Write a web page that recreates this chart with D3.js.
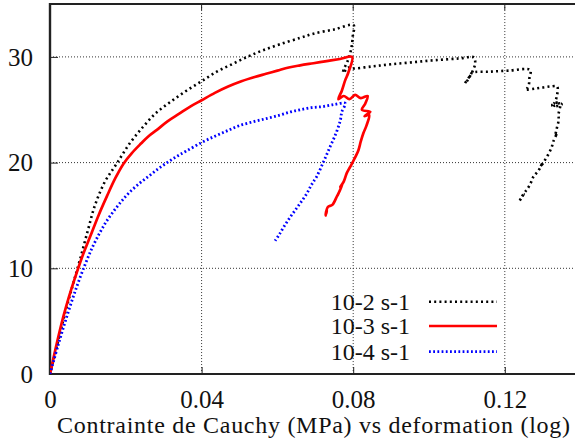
<!DOCTYPE html>
<html><head><meta charset="utf-8">
<script src="https://cdn.jsdelivr.net/npm/d3@7"></script>
<style>
html,body{margin:0;padding:0;background:#fff;}
svg{display:block;}
svg text{font-family:'Liberation Serif';fill:#111;}
</style></head>
<body>
<svg id="chart" width="575" height="443"></svg>
<script>
// ---- data (x = strain, y = stress) ----
const xTicks = [0, 0.04, 0.08, 0.12];
const xTickLabels = ["0", "0.04", "0.08", "0.12"];
const yTicks = [0, 10, 20, 30];
const yTickLabels = ["0", "10", "20", "30"];
const seriesNames = ["10-2 s-1", "10-3 s-1", "10-4 s-1"];
const axisTitle = "Contrainte de Cauchy (MPa) vs deformation (log)";

const s2x = [0,0.0020,0.0040,0.0060,0.0079,0.0100,0.0119,0.0145,0.0176,0.0210,0.0246,0.0280,0.0320,0.0360,0.0400,0.0440,0.0480,0.0520,0.0560,0.0607,0.0660,0.0695,0.0750,0.0801,
  0.0799,0.0796,0.0791,0.0784,0.0776,0.0773,0.0779,0.0787,0.0797,0.0850,0.0900,0.0960,0.1020,0.1080,0.1118,
  0.1122,0.1118,0.1110,0.1102,0.1095,0.1108,0.1114,0.1160,0.1210,0.1267,0.1265,0.1263,0.1258,0.1254,0.1280,
  0.1300,0.1320,0.1338,0.1338,0.1330,0.1322,0.1340,0.1350,0.1328,0.1346,0.1342,0.1342,0.1337,0.1333,0.1338,
  0.1328,0.1325,0.1318,0.1307,0.1300,0.1294,0.1300,0.1288,0.1276,0.1270,0.1263,0.1255,0.1245,0.1250,0.1237,
  0.1243,0.1238];
const s2y = [0,2.9,5.8,8.4,10.8,13.6,16.0,18.2,19.9,21.8,23.4,24.7,25.8,26.8,27.7,28.6,29.3,30.0,30.6,31.2,31.8,32.2,32.6,33.0,
  32.0,31.0,30.2,29.5,28.9,28.5,28.7,29.0,28.9,29.1,29.3,29.5,29.7,29.85,29.95,
  29.4,28.9,28.3,27.8,27.5,28.2,28.5,28.6,28.7,28.76,28.0,27.3,27.0,26.9,27.0,
  27.1,27.2,27.2,26.4,25.6,25.4,25.7,25.5,25.3,25.6,24.6,24.0,23.2,22.5,22.8,
  22.0,21.6,21.0,20.3,19.9,19.6,20.0,19.2,18.7,18.2,17.7,17.3,16.8,17.0,16.3,
  16.6,16.4];

const s3x = [0,0.0018,0.0035,0.0050,0.0065,0.0085,0.0106,0.0128,0.0150,0.0172,0.0194,0.0216,0.0240,0.0260,0.0282,0.0310,0.0340,0.0370,0.0400,0.0435,0.0470,0.0505,0.0540,0.0570,0.0600,0.0630,0.0660,0.0695,0.0730,0.0765,0.0797,
  0.0787,0.0779,0.0770,0.0761,0.0775,0.0790,0.0805,0.0820,0.0838,0.0832,0.0823,0.0845,0.0830,0.0842,0.0835,0.0827,
  0.0820,0.0814,0.0801,0.0792,0.0783,0.0775,0.0766,0.0772,0.0760,0.0757,0.0745,0.0733,0.0727,0.0731,0.0729];
const s3y = [0,2.9,5.4,7.3,9.0,11.1,13.0,15.0,16.8,18.5,19.9,20.9,21.8,22.5,23.1,23.9,24.6,25.3,25.9,26.6,27.2,27.7,28.1,28.4,28.7,29.0,29.2,29.4,29.6,29.8,30.0,
  28.5,27.8,26.8,26.0,26.3,26.0,26.4,26.1,26.3,25.6,25.0,24.8,24.4,24.5,23.5,22.8,
  22.0,21.2,20.2,19.6,19.0,18.2,17.7,18.0,17.0,16.8,16.0,15.8,15.0,15.5,15.2];

const s4x = [0,0.0022,0.0044,0.0068,0.0092,0.0112,0.0132,0.0150,0.0170,0.0190,0.0210,0.0235,0.0260,0.0285,0.0309,0.0335,0.0360,0.0400,0.0435,0.0467,0.0500,0.0540,0.0575,0.0607,0.0635,0.0660,0.0690,0.0720,0.0750,0.0779,
  0.0770,0.0766,0.0755,0.0739,0.0722,0.0704,0.0690,0.0678,0.0665,0.0651,0.0635,0.0620,0.0605,0.0594];
const s4y = [0,2.8,5.4,8.0,10.3,12.0,13.4,14.5,15.5,16.4,17.2,18.0,18.7,19.4,20.0,20.6,21.1,21.9,22.5,23.0,23.5,23.9,24.2,24.5,24.8,25.0,25.2,25.3,25.5,25.6,
  24.8,24.0,22.8,21.5,20.1,18.7,17.9,17.1,16.4,15.7,14.9,14.1,13.2,12.6];

// ---- drawing ----
const svg = d3.select("#chart");
const x = d3.scaleLinear().domain([0, 0.14]).range([50, 50 + 0.14 * 3790]);
const y = d3.scaleLinear().domain([0, 35]).range([374, 374 - 35 * 10.57]);
const L = x(0), B = y(0), T = y(35), R = 575;
const FONT = "'Liberation Serif'";

svg.append("clipPath").attr("id","clip").append("rect")
  .attr("x", L).attr("y", T).attr("width", R - L).attr("height", B - T);

// grid
const g = svg.append("g");
g.selectAll(".gy").data(yTicks.filter(d => d > 0)).enter().append("line")
  .attr("x1", L).attr("x2", R).attr("y1", d => y(d)).attr("y2", d => y(d))
  .attr("stroke", "#333").attr("stroke-width", 1).attr("stroke-dasharray", "1,2");
g.selectAll(".gx").data(xTicks.filter(d => d > 0)).enter().append("line")
  .attr("x1", d => x(d)).attr("x2", d => x(d)).attr("y1", T).attr("y2", B)
  .attr("stroke", "#333").attr("stroke-width", 1).attr("stroke-dasharray", "1,2");

// axes via d3
const yAxis = d3.axisLeft(y).tickValues(yTicks).tickFormat((d,i) => yTickLabels[i]).tickSize(-8).tickPadding(17);
const xAxis = d3.axisBottom(x).tickValues(xTicks).tickFormat((d,i) => xTickLabels[i]).tickSize(-7).tickPadding(17);
const ya = svg.append("g").attr("transform", `translate(${L},0)`).call(yAxis);
const xa = svg.append("g").attr("transform", `translate(0,${B})`).call(xAxis);
ya.attr("font-family", null); xa.attr("font-family", null);
ya.select(".domain").remove(); xa.select(".domain").remove();
ya.selectAll(".tick line").attr("stroke", "#222");
xa.selectAll(".tick line").attr("stroke", "#222");
ya.selectAll("text").attr("font-size", 25).style("font-family", FONT).attr("fill", "#111").attr("dy", "0.33em");
xa.selectAll("text").attr("font-size", 25).style("font-family", FONT).attr("fill", "#111").attr("dy", "0.68em");
// top mirror ticks
svg.append("g").selectAll("line").data(xTicks.filter(d => d > 0)).enter().append("line")
  .attr("x1", d => x(d)).attr("x2", d => x(d)).attr("y1", T).attr("y2", T + 6)
  .attr("stroke", "#222").attr("stroke-width", 1);

// frame
svg.append("line").attr("x1", L).attr("x2", R).attr("y1", B).attr("y2", B).attr("stroke", "#222").attr("stroke-width", 2);
svg.append("line").attr("x1", L).attr("x2", R).attr("y1", T).attr("y2", T).attr("stroke", "#222").attr("stroke-width", 2);
svg.append("line").attr("x1", L).attr("x2", L).attr("y1", T - 1).attr("y2", B + 1).attr("stroke", "#222").attr("stroke-width", 2.4);

// series
const line = d3.line().x(d => x(d[0])).y(d => y(d[1])).curve(d3.curveCatmullRom.alpha(0.5));
const zip = (a, b) => a.map((v, i) => [v, b[i]]);
const series = [
  {name: seriesNames[0], pts: zip(s2x, s2y), color: "#000", w: 2.6, dash: "2,3.2"},
  {name: seriesNames[1], pts: zip(s3x, s3y), color: "#f00", w: 2.7, dash: null},
  {name: seriesNames[2], pts: zip(s4x, s4y), color: "#00f", w: 2.8, dash: "1.8,2.4"}
];
const sg = svg.append("g").attr("clip-path", "url(#clip)");
series.forEach(s => {
  sg.append("path").datum(s.pts).attr("d", line).attr("fill", "none")
    .attr("stroke", s.color).attr("stroke-width", s.w)
    .attr("stroke-dasharray", s.dash).attr("stroke-linejoin", "round");
});

// legend
const lg = svg.append("g");
const rowY = [301.7, 326, 351.7];
series.forEach((s, i) => {
  lg.append("text").attr("x", 410).attr("y", rowY[i] + 7.8).attr("text-anchor", "end")
    .attr("font-size", 24).style("font-family", FONT).text(s.name);
  lg.append("line").attr("x1", 429).attr("x2", 497).attr("y1", rowY[i]).attr("y2", rowY[i])
    .attr("stroke", s.color).attr("stroke-width", s.w).attr("stroke-dasharray", s.dash);
});

// axis title
svg.append("text").attr("x", 57).attr("y", 433).attr("text-anchor", "start")
  .attr("font-size", 24).style("font-family", FONT)
  .attr("textLength", 513).attr("lengthAdjust", "spacing").text(axisTitle);
</script>
</body></html>
